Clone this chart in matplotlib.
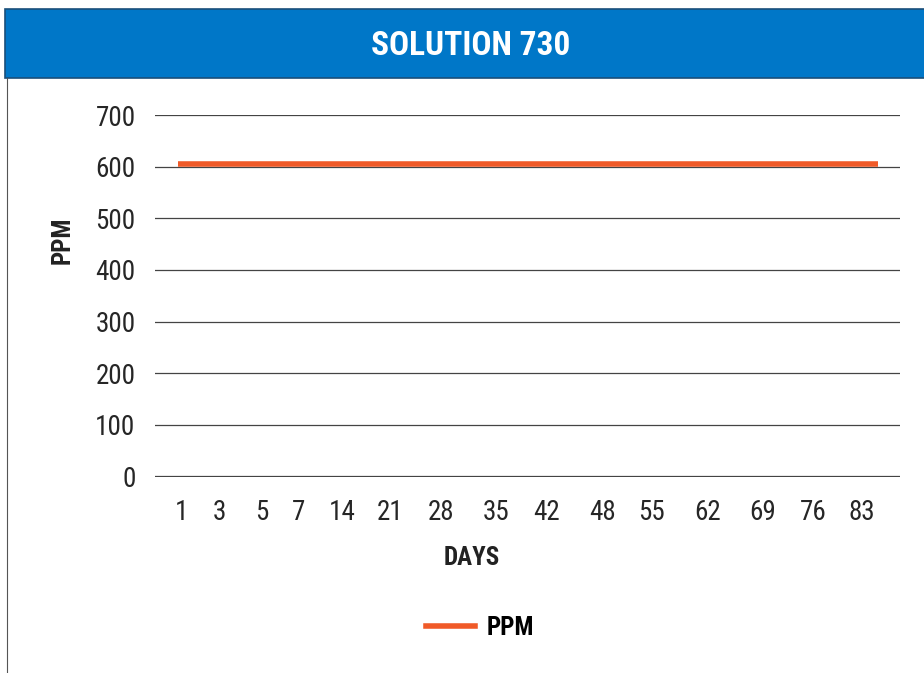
import matplotlib
matplotlib.use('Agg')
import matplotlib.pyplot as plt
from matplotlib.patches import Rectangle
from matplotlib.lines import Line2D

plt.rcParams['font.family'] = ['Roboto Condensed', 'Liberation Sans Narrow', 'Liberation Sans', 'DejaVu Sans']

days = ['1', '3', '5', '7', '14', '21', '28', '35', '42', '48', '55', '62', '69', '76', '83']
ppm = [605, 605, 605, 605, 605, 605, 605, 605, 605, 605, 605, 605, 605, 605, 605]
y_ticks = [0, 100, 200, 300, 400, 500, 600, 700]

# label positions in the original are not evenly spaced
label_pos = [0.08, 0.82, 1.68, 2.42, 3.28, 4.24, 5.26, 6.36, 7.36, 8.48, 9.48, 10.6, 11.7, 12.7, 13.68]

W, H = 924, 673
fig = plt.figure(figsize=(W / 100, H / 100), dpi=100)

# header band and frame
fig.patches.append(Rectangle((5 / W, 1 - 78 / H), 1, 69 / H, transform=fig.transFigure,
                             facecolor='#0077c8', edgecolor='#1a4f7a', linewidth=1.2))
fig.lines.append(Line2D([7.5 / W, 7.5 / W], [0, 1 - 78 / H], transform=fig.transFigure,
                        color='#555555', linewidth=0.8))
fig.text(471 / W, 1 - 46 / H, 'SOLUTION 730', color='white', fontsize=24, fontweight='bold',
         ha='center', va='center')

ax = fig.add_axes([155 / W, 1 - 477 / H, 745 / W, 362 / H])
x = list(range(len(days)))
ax.plot(x, ppm, color='#f05a28', linewidth=4, solid_capstyle='butt', zorder=3)

ax.set_xlim(-0.46, 14.44)
ax.set_ylim(-1, 700)
ax.set_yticks(y_ticks)
ax.set_xticks(label_pos)
ax.set_xticklabels(days)
ax.grid(axis='y', color='#444444', linewidth=0.9)
ax.set_axisbelow(True)
for s in ax.spines.values():
    s.set_visible(False)
ax.tick_params(axis='both', length=0, labelsize=19.5, labelcolor='#262626')
ax.tick_params(axis='y', pad=14)
ax.tick_params(axis='x', pad=16)

fig.text(472 / W, 1 - 558 / H, 'DAYS', fontsize=18, fontweight='bold', color='#222222',
         ha='center', va='center')
fig.text(63 / W, 1 - 240 / H, 'PPM', fontsize=18, fontweight='bold', color='#222222',
         ha='center', va='center', rotation=90)

handle = Line2D([], [], color='#f05a28', linewidth=4)
fig.legend([handle], ['PPM'], loc='center', bbox_to_anchor=(480 / W, 1 - 628 / H),
           frameon=False, handlelength=1.95, handletextpad=0.45,
           prop={'size': 18, 'weight': 'bold'})

fig.savefig('out.png', dpi=100)
